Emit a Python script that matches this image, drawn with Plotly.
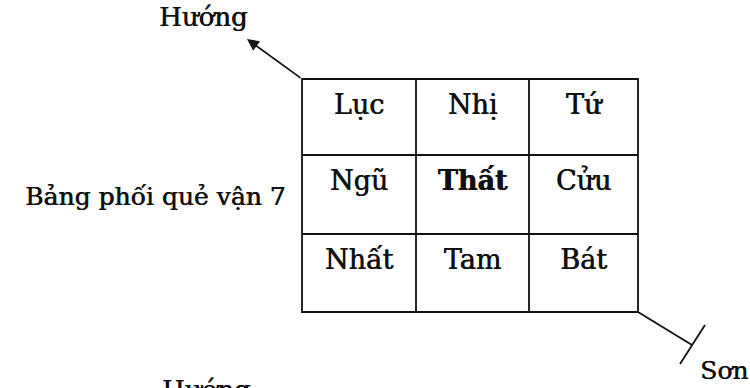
import plotly.graph_objects as go

# ---- data ----
cell_labels = [
    ["Lục", "Nhị", "Tứ"],
    ["Ngũ", "Thất", "Cửu"],
    ["Nhất", "Tam", "Bát"],
]
bold_cells = ["Thất"]
title_label = "Bảng phối quẻ vận 7"
direction_top = "Hướng"
direction_bottom = "Hướng"
mountain_label = "Sơn"

# ---- layout geometry (pixel space) ----
W, H = 750, 388
col_edges = [302, 416, 529, 638]
row_edges = [79, 155, 234, 312]
FONT = "DejaVu Serif"
INK = "#111111"
SHADOW = "0.6px 0px 0px #111111"
LINE = dict(color=INK, width=1.8)


def font(size):
    return dict(family=FONT, size=size, color=INK, shadow=SHADOW)


fig = go.Figure()

xs, ys, ts = [], [], []
for r, row in enumerate(cell_labels):
    for c, lab in enumerate(row):
        xs.append((col_edges[c] + col_edges[c + 1]) / 2)
        ys.append(row_edges[r] + 28)
        ts.append(f"<b>{lab}</b>" if lab in bold_cells else lab)
fig.add_trace(go.Scatter(x=xs, y=ys, text=ts, mode="text",
                         textposition="middle center",
                         textfont=font(27),
                         hoverinfo="skip", showlegend=False))

shapes = [dict(type="rect", x0=col_edges[0], x1=col_edges[-1],
               y0=row_edges[0], y1=row_edges[-1], line=LINE)]
for xe in col_edges[1:-1]:
    shapes.append(dict(type="line", x0=xe, x1=xe, y0=row_edges[0], y1=row_edges[-1], line=LINE))
for ye in row_edges[1:-1]:
    shapes.append(dict(type="line", x0=col_edges[0], x1=col_edges[-1], y0=ye, y1=ye, line=LINE))
# Sơn line with end tick
shapes.append(dict(type="line", x0=col_edges[-1], y0=row_edges[-1], x1=692, y1=345, line=LINE))
shapes.append(dict(type="line", x0=705, y0=325, x1=680, y1=364, line=LINE))

annotations = [
    dict(x=247, y=39, ax=col_edges[0], ay=row_edges[0], xref="x", yref="y",
         axref="x", ayref="y", text="", showarrow=True, arrowhead=2,
         arrowsize=1.4, arrowwidth=1.7, arrowcolor=INK, standoff=0),
    dict(x=203, y=17, xref="x", yref="y", text=direction_top, showarrow=False,
         font=font(26)),
    dict(x=288, y=196, xref="x", yref="y", text=title_label, showarrow=False,
         xanchor="right", font=font(25)),
    dict(x=724, y=370, xref="x", yref="y", text=mountain_label, showarrow=False,
         font=font(25)),
    dict(x=206, y=373, xref="x", yref="y", text=direction_bottom, showarrow=False,
         yanchor="top", font=font(26)),
]

fig.update_layout(
    width=W, height=H, margin=dict(l=0, r=0, t=0, b=0),
    paper_bgcolor="white", plot_bgcolor="white",
    xaxis=dict(range=[0, W], visible=False, fixedrange=True),
    yaxis=dict(range=[H, 0], visible=False, fixedrange=True),
    shapes=shapes, annotations=annotations,
)
fig.write_html("out.html", config={"displayModeBar": False},
               post_script="document.body.style.margin='0';document.body.style.overflow='hidden';")
